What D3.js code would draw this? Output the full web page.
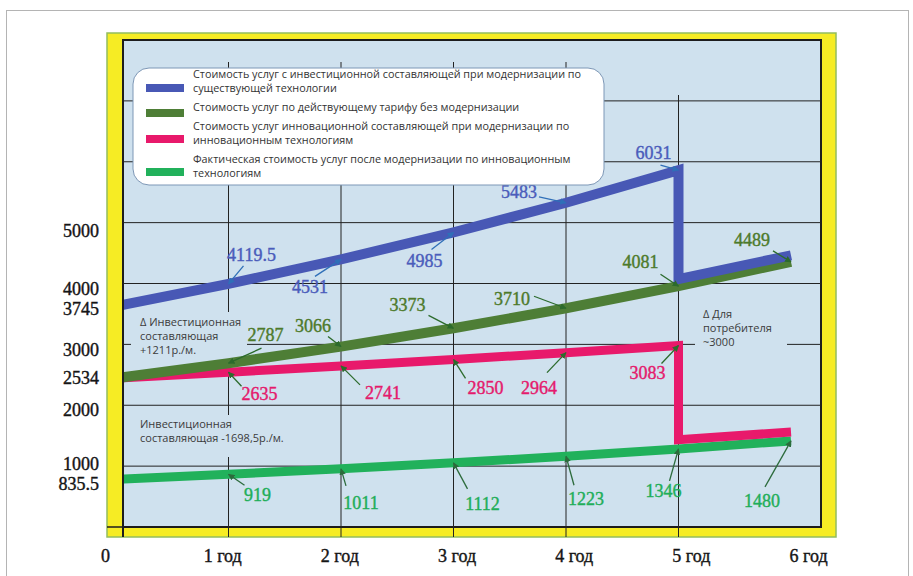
<!DOCTYPE html>
<html>
<head>
<meta charset="utf-8">
<script src="https://cdn.jsdelivr.net/npm/d3@7"></script>
<style>
  body { margin: 0; background: #fff; }
  svg { display: block; }
</style>
</head>
<body>
<svg id="chart"></svg>
<script>
const width = 913;
const height = 576;

// ---- data ----
const yearLabels = ['0', '1 год', '2 год', '3 год', '4 год', '5 год', '6 год'];
const yTickValues = [5000, 4000, 3745, 3000, 2534, 2000, 1000, 835.5];

const seriesNames = [
  ['Стоимость услуг с инвестиционной составляющей при модернизации по', 'существующей технологии'],
  ['Стоимость услуг по действующему тарифу без модернизации'],
  ['Стоимость услуг инновационной составляющей при модернизации по', 'инновационным технологиям'],
  ['Фактическая стоимость услуг после модернизации по инновационным', 'технологиям']
];

// blue: existing technology + investment component (falls back at year 5)
const blueYears  = [0, 1, 2, 3, 4, 5, 5, 6];
const blueValues = [3745, 4119.5, 4531, 4985, 5483, 6031, 4200, 4600];
const blueLabelIdx = [1, 2, 3, 4, 5];

// dark green: current tariff without modernization
const greenYears  = [0, 1, 2, 3, 4, 5, 6];
const greenValues = [2534, 2787, 3066, 3373, 3710, 4081, 4489];
const greenLabelIdx = [1, 2, 3, 4, 5, 6];

// pink: innovation component
const pinkYears  = [0, 1, 2, 3, 4, 5, 5, 6];
const pinkValues = [2534, 2635, 2741, 2850, 2964, 3083, 1500, 1630];
const pinkLabelIdx = [1, 2, 3, 4, 5];

// light green: actual cost after modernization
const factYears  = [0, 1, 2, 3, 4, 5, 6];
const factValues = [835.5, 919, 1011, 1112, 1223, 1346, 1480];
const factLabelIdx = [1, 2, 3, 4, 5, 6];

const notes = [
  ['Δ Инвестиционная', 'составляющая', '+1211р./м.'],
  ['Инвестиционная', 'составляющая -1698,5р./м.'],
  ['Δ Для', 'потребителя', '~3000']
];

// ---- layout ----
const panel = {left: 123, top: 40, right: 821, bottom: 527};
const frame = {left: 107, top: 33, right: 836, bottom: 537};
const panelColor = '#cfe1ee';

// label offsets from the point: [text dx, text dy, arrow start dx, arrow start dy]
const blueLabelPos  = [[23,-29,15,-18], [-31,27,-26,17], [-29,28,-22,17], [-47,-11,-27,-6], [-25,-17,-18,-5]];
const greenLabelPos = [[37,-28,33,-15], [-28,-21,-13,-10], [-46,-24,-25,-13], [-54,-10,-32,-12], [-38,-24,-18,-12], [-39,-22,-18,-11]];
const pinkLabelPos  = [[31,21,13,14], [42,27,19,19], [32,28,12,19], [-27,35,-19,20], [-31,27,-17,18]];
const factLabelPos  = [[29,20,16,11], [20,34,5,17], [29,41,14,26], [20,42,8,29], [-15,42,-9,32], [-29,60,-26,46]];
const notePos = [[131, 312, 116, 52, 140, 326], [131, 415, 160, 42, 140, 428], [695, 305, 92, 56, 703, 318]];

const svg = d3.select('#chart')
  .attr('width', width)
  .attr('height', height)
  .style('font-family', 'Liberation Serif, serif');

const x = d3.scaleLinear().domain([0, 6]).range([116, 791]);
const y = d3.scaleLinear().domain([0, 8000]).range([529, 53]);
const yGrid = d3.scaleLinear().domain([0, 8]).range([panel.bottom, panel.top]);
const xLabel = d3.scalePoint().domain(yearLabels).range([105, 808]);

const series = [
  {years: factYears,  values: factValues,  labels: factLabelIdx,  pos: factLabelPos,  color: '#21b15b', text: '#1fae59', arrow: '#2c6b3c', width: 9},
  {years: pinkYears,  values: pinkValues,  labels: pinkLabelIdx,  pos: pinkLabelPos,  color: '#e8196b', text: '#e41a6c', arrow: '#2c6b2c', width: 9},
  {years: greenYears, values: greenValues, labels: greenLabelIdx, pos: greenLabelPos, color: '#4e7e36', text: '#4d7a2b', arrow: '#2c6b2c', width: 10},
  {years: blueYears,  values: blueValues,  labels: blueLabelIdx,  pos: blueLabelPos,  color: '#4858b5', text: '#4a5cbb', arrow: '#2f6fb8', width: 10}
];
const legendColors = ['#4858b5', '#4e7e36', '#e8196b', '#21b15b'];

// outer grey frame
svg.append('rect')
  .attr('x', 6.5).attr('y', 10.5)
  .attr('width', 902).attr('height', 600)
  .attr('fill', 'none').attr('stroke', '#b4b4b4');

// yellow frame + panel
svg.append('rect')
  .attr('x', frame.left).attr('y', frame.top)
  .attr('width', frame.right - frame.left).attr('height', frame.bottom - frame.top)
  .attr('fill', '#f6ec24').attr('stroke', '#93bd5e').attr('stroke-width', 1.5);

svg.append('rect')
  .attr('x', panel.left).attr('y', panel.top)
  .attr('width', panel.right - panel.left).attr('height', panel.bottom - panel.top)
  .attr('fill', panelColor).attr('stroke', '#1d1d1d').attr('stroke-width', 2);

svg.append('line')
  .attr('x1', frame.left).attr('x2', panel.right)
  .attr('y1', panel.bottom).attr('y2', panel.bottom)
  .attr('stroke', '#1d1d1d').attr('stroke-width', 1.5);
svg.append('line')
  .attr('x1', panel.left).attr('x2', panel.left)
  .attr('y1', panel.top).attr('y2', frame.bottom)
  .attr('stroke', '#1d1d1d').attr('stroke-width', 2);

// grid
const grid = svg.append('g').attr('stroke', '#222').attr('stroke-width', 1);
grid.selectAll('.h').data(d3.range(1, 8)).enter().append('line')
  .attr('x1', panel.left).attr('x2', panel.right)
  .attr('y1', d => yGrid(d)).attr('y2', d => yGrid(d));
grid.selectAll('.v').data([1, 2, 3, 4, 5]).enter().append('line')
  .attr('x1', d => x(d)).attr('x2', d => x(d))
  .attr('y1', d => d === 5 ? 95 : 62).attr('y2', frame.bottom);

// note boxes (cover the grid)
notes.forEach((lines, k) => {
  const [bx, by, bw, bh, tx, ty] = notePos[k];
  svg.append('rect')
    .attr('x', bx).attr('y', by).attr('width', bw).attr('height', bh)
    .attr('fill', panelColor);
  svg.append('text')
    .attr('x', tx).attr('y', ty)
    .attr('dy', '0.35em')
    .style('font-family', 'Open Sans, sans-serif')
    .style('font-size', '11px')
    .attr('fill', '#3b3b3b')
    .selectAll('tspan').data(lines).enter().append('tspan')
    .attr('x', tx)
    .attr('dy', (d, i) => i === 0 ? 0 : 14)
    .text(d => d);
});

// lines
svg.append('clipPath').attr('id', 'clip').append('rect')
  .attr('x', panel.left + 1).attr('y', panel.top)
  .attr('width', panel.right - panel.left).attr('height', panel.bottom - panel.top);

const line = d3.line()
  .x(d => x(d[0]))
  .y(d => y(d[1]));

const lineG = svg.append('g').attr('clip-path', 'url(#clip)');
series.forEach(s => {
  lineG.append('path')
    .datum(s.years.map((t, i) => [t, s.values[i]]))
    .attr('d', line)
    .attr('fill', 'none')
    .attr('stroke', s.color)
    .attr('stroke-width', s.width)
    .attr('stroke-linejoin', 'miter')
    .attr('stroke-miterlimit', 2);
});

// arrow markers
const defs = svg.append('defs');
series.forEach((s, k) => {
  defs.append('marker')
    .attr('id', 'arr' + k)
    .attr('viewBox', '0 0 10 10')
    .attr('refX', 9).attr('refY', 5)
    .attr('markerWidth', 5).attr('markerHeight', 5)
    .attr('orient', 'auto')
    .append('path')
    .attr('d', 'M0,0L10,5L0,10z')
    .attr('fill', s.arrow);
});

// value labels with arrows
series.forEach((s, k) => {
  s.labels.forEach((i, j) => {
    const px = x(s.years[i]);
    const py = y(s.values[i]);
    const [ldx, ldy, adx, ady] = s.pos[j];
    svg.append('line')
      .attr('x1', px + adx).attr('y1', py + ady)
      .attr('x2', px).attr('y2', py)
      .attr('stroke', s.arrow)
      .attr('stroke-width', 1.3)
      .attr('marker-end', `url(#arr${k})`);
    svg.append('text')
      .attr('x', px + ldx).attr('y', py + ldy)
      .attr('dy', '0.35em')
      .attr('text-anchor', 'middle')
      .attr('fill', s.text)
      .attr('stroke', s.text)
      .attr('stroke-width', 0.4)
      .style('font-size', '18px')
      .text(String(s.values[i]));
  });
});

// axes
const yAxis = svg.append('g')
  .attr('transform', 'translate(99,0)')
  .call(d3.axisLeft(y).tickValues(yTickValues).tickSize(0).tickPadding(0).tickFormat(d => String(d)));
yAxis.select('.domain').remove();
yAxis.selectAll('text')
  .attr('dy', '0.33em')
  .attr('fill', '#151515')
  .attr('stroke', '#151515')
  .attr('stroke-width', 0.4)
  .style('font-family', 'Liberation Serif, serif')
  .style('font-size', '18px');

// push apart tick labels that sit too close (3745 / 4000, 835.5 / 1000)
const minGap = 20;
const ticks = yAxis.selectAll('.tick').nodes()
  .map(n => ({node: n, y: y(d3.select(n).datum())}))
  .sort((a, b) => a.y - b.y);
for (let i = 1; i < ticks.length; i++) {
  const gap = ticks[i].y - ticks[i - 1].y;
  if (gap < minGap) {
    const shift = (minGap - gap) / 2;
    ticks[i - 1].y -= shift;
    ticks[i].y += shift;
  }
}
ticks.forEach(t => d3.select(t.node).attr('transform', `translate(0,${t.y})`));

const xAxis = svg.append('g')
  .attr('transform', 'translate(0,546)')
  .call(d3.axisBottom(xLabel).tickSize(0));
xAxis.select('.domain').remove();
xAxis.selectAll('text')
  .attr('fill', '#151515')
  .attr('stroke', '#151515')
  .attr('stroke-width', 0.4)
  .style('font-family', 'Liberation Serif, serif')
  .style('font-size', '18px');

// legend
const legend = svg.append('g');
legend.append('rect')
  .attr('x', 133).attr('y', 68)
  .attr('width', 471).attr('height', 117)
  .attr('rx', 16)
  .attr('fill', '#fff')
  .attr('stroke', '#7d97b6').attr('stroke-width', 1);

const legendSwatchY = [88, 113, 139, 172];
const legendTextY = [78, 111, 130, 163];
seriesNames.forEach((lines, k) => {
  legend.append('rect')
    .attr('x', 146).attr('y', legendSwatchY[k] - 4)
    .attr('width', 38).attr('height', 8)
    .attr('fill', legendColors[k]);
  legend.append('text')
    .attr('y', legendTextY[k])
    .attr('dy', '0.35em')
    .style('font-family', 'Open Sans, sans-serif')
    .style('font-size', '10.8px')
    .attr('fill', '#333')
    .selectAll('tspan').data(lines).enter().append('tspan')
    .attr('x', 193)
    .attr('dy', (d, i) => i === 0 ? 0 : 13.5)
    .text(d => d);
});
</script>
</body>
</html>
